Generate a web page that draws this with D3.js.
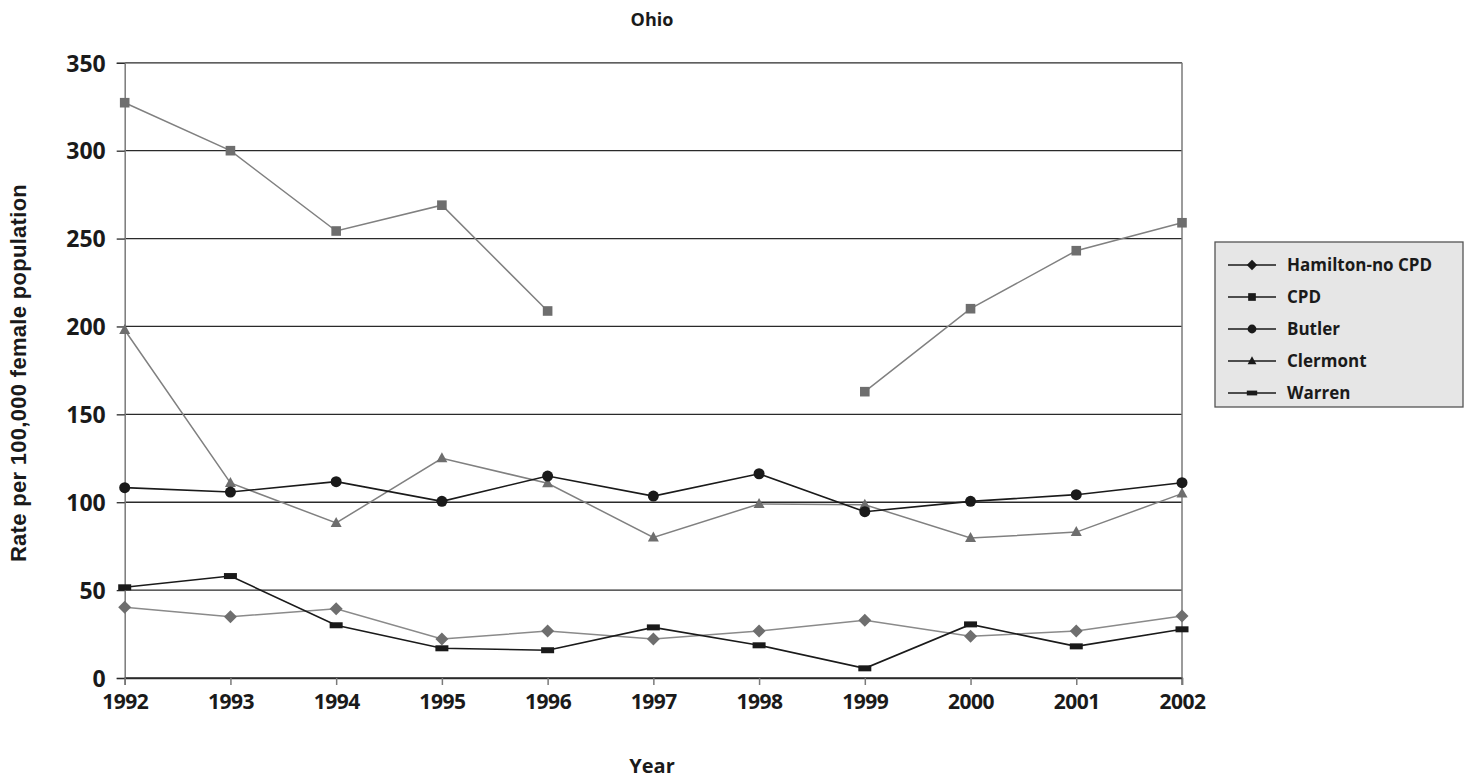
<!DOCTYPE html>
<html>
<head>
<meta charset="utf-8">
<script src="https://cdn.jsdelivr.net/npm/d3@7"></script>
<style>
  html, body { margin: 0; padding: 0; background: #fff; }
  svg { display: block; }
</style>
</head>
<body>
<svg id="chart" width="1478" height="780"></svg>
<script>
// Years on the x axis
const years = [1992, 1993, 1994, 1995, 1996, 1997, 1998, 1999, 2000, 2001, 2002];
const yTicks = [0, 50, 100, 150, 200, 250, 300, 350];

// Rates per 100,000 female population
const hamilton = [40.2, 34.9, 39.4, 22.2, 26.7, 22.2, 26.7, 32.8, 23.7, 26.7, 35.3];
const cpd      = [327.3, 300, 254.3, 269, 208.8, null, null, 162.9, 210.1, 243.1, 259];
const butler   = [108.3, 105.8, 111.7, 100.5, 114.9, 103.5, 116.2, 94.6, 100.5, 104.3, 111.1];
const clermont = [198, 111, 88.2, 125, 110.8, 80, 99, 98.6, 79.6, 83, 104.9];
const warren   = [51.6, 58, 30, 16.9, 15.8, 28.8, 18.6, 5.5, 30.5, 18, 27.7];

const seriesNames = ["Hamilton-no CPD", "CPD", "Butler", "Clermont", "Warren"];
const seriesValues = [hamilton, cpd, butler, clermont, warren];

const styles = {
  "Hamilton-no CPD": { line: "#8a8a8a", fill: "#6e6e6e", marker: "diamond" },
  "CPD":             { line: "#808080", fill: "#6e6e6e", marker: "square" },
  "Butler":          { line: "#1a1a1a", fill: "#1a1a1a", marker: "circle" },
  "Clermont":        { line: "#808080", fill: "#6e6e6e", marker: "triangle" },
  "Warren":          { line: "#1a1a1a", fill: "#1a1a1a", marker: "bar" }
};

const svg = d3.select("#chart");
const plotLeft = 124.7, plotRight = 1182, plotTop = 62.8, plotBottom = 678;

const x = d3.scaleLinear().domain([1992, 2002]).range([plotLeft, plotRight]);
const y = d3.scaleLinear().domain([0, 350]).range([plotBottom, plotTop]);

const tickFont = "'Open Sans', 'Noto Sans', sans-serif";

// Horizontal gridlines
svg.append("g")
  .selectAll("line")
  .data(yTicks)
  .join("line")
  .attr("x1", plotLeft).attr("x2", plotRight)
  .attr("y1", d => y(d)).attr("y2", d => y(d))
  .attr("stroke", "#2a2a2a").attr("stroke-width", 1.3);

// Right border of the plot
svg.append("line")
  .attr("x1", plotRight).attr("x2", plotRight)
  .attr("y1", plotTop).attr("y2", plotBottom + 7)
  .attr("stroke", "#7a7a7a").attr("stroke-width", 1.5);

// Y axis
const yAxis = svg.append("g")
  .attr("transform", `translate(${plotLeft},0)`)
  .call(d3.axisLeft(y).tickValues(yTicks).tickSize(8).tickPadding(11).tickFormat(d3.format("d")));
yAxis.select(".domain").attr("stroke", "#7a7a7a").attr("stroke-width", 1.5);
yAxis.selectAll(".tick line").attr("stroke", "#2a2a2a").attr("stroke-width", 1.3);
yAxis.selectAll(".tick text")
  .attr("font-family", tickFont).attr("font-weight", "bold")
  .attr("font-size", 23).attr("fill", "#1a1a1a").attr("dy", "0.36em");

// X axis
const xAxis = svg.append("g")
  .attr("transform", `translate(0,${plotBottom})`)
  .call(d3.axisBottom(x).tickValues(years).tickSize(7).tickPadding(9).tickFormat(d3.format("d")));
xAxis.select(".domain").attr("stroke", "#2a2a2a").attr("stroke-width", 1.3);
xAxis.selectAll(".tick line").attr("stroke", "#7a7a7a").attr("stroke-width", 1.5);
xAxis.selectAll(".tick text")
  .attr("font-family", tickFont).attr("font-weight", "bold")
  .attr("font-size", 21).attr("fill", "#1a1a1a")
  .attr("letter-spacing", "-0.5px");

// Marker shapes
function drawMarker(g, type, color, scale) {
  const s = scale || 1;
  if (type === "diamond") {
    g.append("path").attr("d", `M0,${-6.5*s}L${6.5*s},0L0,${6.5*s}L${-6.5*s},0Z`).attr("fill", color);
  } else if (type === "square") {
    g.append("rect").attr("x", -4.8*s).attr("y", -4.8*s).attr("width", 9.6*s).attr("height", 9.6*s).attr("fill", color);
  } else if (type === "circle") {
    g.append("circle").attr("r", 5.5*s).attr("fill", color);
  } else if (type === "triangle") {
    g.append("path").attr("d", `M0,${-6*s}L${5.5*s},${4*s}L${-5.5*s},${4*s}Z`).attr("fill", color);
  } else if (type === "bar") {
    g.append("rect").attr("x", -6.5*s).attr("y", -3*s).attr("width", 13*s).attr("height", 6*s).attr("fill", color);
  }
}

const line = d3.line()
  .defined(d => d.v !== null)
  .x(d => x(d.year))
  .y(d => y(d.v));

// Draw series in back-to-front order
const drawOrder = ["Hamilton-no CPD", "CPD", "Clermont", "Warren", "Butler"];
drawOrder.forEach(name => {
  const vals = seriesValues[seriesNames.indexOf(name)];
  const pts = years.map((yr, i) => ({ year: yr, v: vals[i] }));
  const st = styles[name];
  svg.append("path")
    .datum(pts)
    .attr("fill", "none")
    .attr("stroke", st.line)
    .attr("stroke-width", st.line === "#1a1a1a" ? 1.6 : 1.5)
    .attr("d", line);
  pts.filter(p => p.v !== null).forEach(p => {
    const g = svg.append("g").attr("transform", `translate(${x(p.year)},${y(p.v)})`);
    drawMarker(g, st.marker, st.fill);
  });
});

// Title and axis titles
svg.append("text")
  .attr("x", 652).attr("y", 26)
  .attr("text-anchor", "middle")
  .attr("font-family", tickFont).attr("font-weight", "bold")
  .attr("font-size", 18).attr("fill", "#1a1a1a")
  .text("Ohio");

svg.append("text")
  .attr("x", 652).attr("y", 773)
  .attr("text-anchor", "middle")
  .attr("font-family", tickFont).attr("font-weight", "bold")
  .attr("font-size", 20).attr("fill", "#1a1a1a")
  .text("Year");

svg.append("text")
  .attr("transform", "translate(26,373) rotate(-90)")
  .attr("text-anchor", "middle")
  .attr("font-family", "'Liberation Sans', Arial, sans-serif").attr("font-weight", "bold")
  .attr("font-size", 22).attr("letter-spacing", "0.3px").attr("fill", "#1a1a1a")
  .text("Rate per 100,000 female population");

// Legend
const legend = svg.append("g");
legend.append("rect")
  .attr("x", 1215).attr("y", 242)
  .attr("width", 248).attr("height", 165)
  .attr("fill", "#e6e6e6").attr("stroke", "#555").attr("stroke-width", 1.3);

seriesNames.forEach((name, i) => {
  const cy = 265 + i * 32;
  const g = legend.append("g");
  g.append("line")
    .attr("x1", 1228).attr("x2", 1276)
    .attr("y1", cy).attr("y2", cy)
    .attr("stroke", "#1a1a1a").attr("stroke-width", 1.4);
  const m = g.append("g").attr("transform", `translate(1252,${cy})`);
  drawMarker(m, styles[name].marker, "#1a1a1a", 0.8);
  g.append("text")
    .attr("x", 1287).attr("y", cy).attr("dy", "0.36em")
    .attr("font-family", tickFont).attr("font-weight", "bold")
    .attr("font-size", 17).attr("fill", "#1a1a1a")
    .text(name);
});
</script>
</body>
</html>
